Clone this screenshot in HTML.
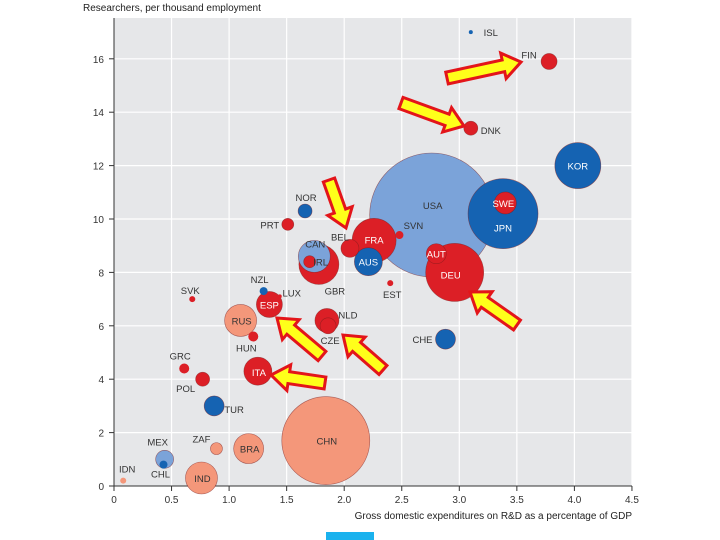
<!DOCTYPE html>
<html><head><meta charset="utf-8"><style>
html,body{margin:0;padding:0;background:#fff;}
svg{display:block;font-family:"Liberation Sans",sans-serif;}
</style></head><body>
<svg id="chart" width="720" height="540">
<rect x="114" y="18" width="518" height="468" fill="#e6e7e9"/>
<g id="grid"></g><g id="axes"></g><g id="bubbles"></g><g id="labels"></g><g id="arrows"></g>
<text x="83" y="11" font-size="10" fill="#222">Researchers, per thousand employment</text>
<text x="632" y="519" font-size="10" fill="#222" text-anchor="end">Gross domestic expenditures on R&amp;D as a percentage of GDP</text>
<rect x="326" y="532" width="48" height="8" fill="#1ab2ee"/>
</svg>
<script>
const countries=["ISL","FIN","DNK","KOR","USA","JPN","SWE","NOR","PRT","BEL","FRA","AUS","SVN","GBR","CAN","IRL","AUT","DEU","EST","NZL","LUX","ESP","RUS","HUN","NLD","CZE","CHE","SVK","GRC","ITA","POL","TUR","CHN","BRA","ZAF","MEX","CHL","IDN","IND"];
const gerd=[3.1,3.78,3.1,4.03,2.76,3.38,3.4,1.66,1.51,2.05,2.26,2.21,2.48,1.78,1.74,1.7,2.8,2.96,2.4,1.3,1.44,1.35,1.1,1.21,1.85,1.86,2.88,0.68,0.61,1.25,0.77,0.87,1.84,1.17,0.89,0.44,0.43,0.08,0.76];
const researchers=[17.0,15.9,13.4,12.0,10.15,10.2,10.6,10.3,9.8,8.9,9.2,8.4,9.4,8.3,8.6,8.4,8.7,8.0,7.6,7.3,7.1,6.8,6.2,5.6,6.2,6.0,5.5,7.0,4.4,4.3,4.0,3.0,1.7,1.4,1.4,1.0,0.8,0.2,0.3];
const bubbleSize=[2,8,7,23,62,35,11,7,6,9,22,14,4,20,16,6,10,29,3,4,2,13,16,5,12,8,10,3,5,14,7,10,44,15,6,9,4,3,16];
const group=["db","r","r","db","lb","db","r","db","r","r","r","db","r","r","lb","r","r","r","r","db","r","r","s","r","r","r","db","r","r","r","r","db","s","s","s","lb","db","s","s"];
const xTicks=[0,0.5,1.0,1.5,2.0,2.5,3.0,3.5,4.0,4.5];
const xTickLabels=["0","0.5","1.0","1.5","2.0","2.5","3.0","3.5","4.0","4.5"];
const yTicks=[0,2,4,6,8,10,12,14,16];
const X=v=>114+v*115.1, Y=v=>486-v*26.7;
const fills={r:"#dc1f26",db:"#1563b2",lb:"#7ba3d9",s:"#f4977a"};
const NS="http://www.w3.org/2000/svg";
function mk(t,a,p){const e=document.createElementNS(NS,t);for(const k in a)e.setAttribute(k,a[k]);p.appendChild(e);return e;}
const G=document.getElementById('grid'),A=document.getElementById('axes');
xTicks.forEach((v,i)=>{
 if(v>0){const l=mk('line',{x1:X(v),x2:X(v),y1:18,y2:486,stroke:'#fff','stroke-width':1.2},G);
 
 }
 const t=mk('text',{x:X(v),y:503,'font-size':10,'text-anchor':'middle',fill:'#333'},A);t.textContent=xTickLabels[i];
 
 
 mk('line',{x1:X(v),x2:X(v),y1:486,y2:491,stroke:'#333'},A);
});
yTicks.forEach(v=>{
 if(v>0){const l=mk('line',{x1:114,x2:632,y1:Y(v),y2:Y(v),stroke:'#fff','stroke-width':1.2},G);
 
 }
 const t=mk('text',{x:104,y:Y(v)+4,'font-size':10,'text-anchor':'end',fill:'#333'},A);t.textContent=v;
 
 
 mk('line',{x1:109,x2:114,y1:Y(v),y2:Y(v),stroke:'#333'},A);
});
mk('line',{x1:114,x2:114,y1:18,y2:486,stroke:'#333'},A);
mk('line',{x1:114,x2:632,y1:486,y2:486,stroke:'#333'},A);
const B=document.getElementById('bubbles');
const order=countries.map((c,i)=>i).sort((a,b)=>bubbleSize[b]-bubbleSize[a]);
order.forEach(i=>{
 const c=mk('circle',{cx:X(gerd[i]),cy:Y(researchers[i]),r:bubbleSize[i],fill:fills[group[i]],stroke:bubbleSize[i]>5?'#7a1a1a':'none','stroke-width':0.6,'stroke-opacity':0.6},B);
 
 
});
// label layout offsets (dx,dy from bubble centre, white flag)
const lay={ISL:[20,4,0],FIN:[-20,-3,0],DNK:[20,6,0],KOR:[0,4,1],USA:[1,-6,0],JPN:[0,18,1],SWE:[-2,4,1],NOR:[1,-10,0],PRT:[-18,4,0],BEL:[-10,-8,0],FRA:[0,3,1],AUS:[0,4,1],SVN:[14,-6,0],GBR:[16,30,0],CAN:[1,-9,0],IRL:[11,4,0],AUT:[0,4,1],DEU:[-4,6,1],EST:[2,15,0],NZL:[-4,-8,0],LUX:[12,0,0],ESP:[0,4,1],RUS:[1,4,0],HUN:[-7,15,0],NLD:[21,-2,0],CZE:[2,18,0],CHE:[-23,4,0],SVK:[-2,-5,0],GRC:[-4,-9,0],ITA:[1,5,1],POL:[-17,13,0],TUR:[20,7,0],CHN:[1,4,0],BRA:[1,4,0],ZAF:[-15,-6,0],MEX:[-7,-14,0],CHL:[-3,13,0],IDN:[4,-8,0],IND:[1,4,0]};
const L=document.getElementById('labels');
countries.forEach((c,i)=>{
 const o=lay[c];
 const t=mk('text',{x:X(gerd[i])+o[0],y:Y(researchers[i])+o[1],'font-size':9.5,'text-anchor':'middle',fill:o[2]?'#fff':'#333'},L);
 t.textContent=c;
 
 
});
const arrows=[[447,78,521,62],[401,103,464,126],[329,180,346,228],[517,325,470,292],[322,356,277,318],[383,370,343,335],[325,383,271,375]];
const AR=document.getElementById('arrows');
arrows.forEach(a=>{
 const [x1,y1,x2,y2]=a,dx=x2-x1,dy=y2-y1,len=Math.hypot(dx,dy),ux=dx/len,uy=dy/len,px=-uy,py=ux;
 const sw=6,hw=13,hl=18,bx=x2-ux*hl,by=y2-uy*hl;
 const pts=[[x1+px*sw,y1+py*sw],[bx+px*sw,by+py*sw],[bx+px*hw,by+py*hw],[x2,y2],[bx-px*hw,by-py*hw],[bx-px*sw,by-py*sw],[x1-px*sw,y1-py*sw]];
 const p=mk('polygon',{points:pts.map(q=>q.join(',')).join(' '),fill:'#ffff1a',stroke:'#e3151a','stroke-width':3,'stroke-linejoin':'miter'},AR);
 
 
});
</script>
</body></html>
